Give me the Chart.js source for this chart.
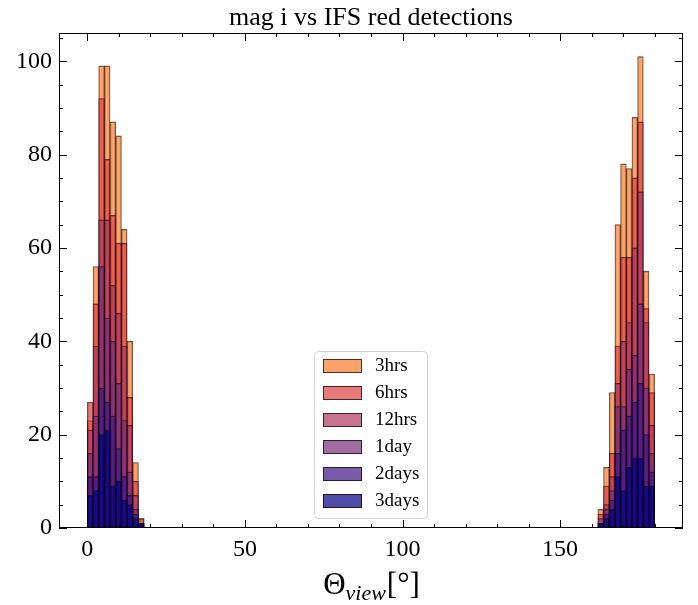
<!DOCTYPE html>
<html>
<head>
<meta charset="utf-8">
<script src="https://cdn.jsdelivr.net/npm/chart.js@4.4.1/dist/chart.umd.min.js"></script>
<style>
  html, body { margin: 0; padding: 0; background: #fff; }
  #wrap { width: 698px; height: 605px; position: relative; }
</style>
</head>
<body>
<div id="wrap"><canvas id="histChart" width="698" height="605"></canvas></div>
<script>
// bin centres (deg), bins of width 1.8 from 0 to 180, only non-empty bins kept
const binCenters = [0.9, 2.7, 4.5, 6.3, 8.1, 9.9, 11.7, 13.5, 15.3, 17.1,
                    162.9, 164.7, 166.5, 168.3, 170.1, 171.9, 173.7, 175.5, 177.3, 179.1];

const labels = ['3hrs', '6hrs', '12hrs', '1day', '2days', '3days'];
const hrs3  = [23, 56, 99, 99, 87, 84, 64, 40, 14, 2,   4, 13, 29, 65, 78, 77, 88, 101, 55, 33];
const hrs6  = [27, 48, 92, 79, 67, 61, 61, 28, 10, 2,   3,  9, 16, 39, 58, 58, 75,  87, 47, 29];
const hrs12 = [21, 39, 66, 66, 52, 46, 39, 22,  7, 1,   2,  5, 11, 31, 40, 44, 60,  72, 44, 22];
const day1  = [16, 24, 56, 45, 40, 31, 23, 12,  4, 1,   1,  4,  8, 26, 26, 34, 37,  48, 30, 16];
const days2 = [11, 11, 30, 27, 24, 17, 11,  7,  3, 1,   1,  3,  6, 16, 21, 24, 27,  31, 20, 12];
const days3 = [ 7,  8, 20, 21,  9, 10,  6,  5,  2, 1,   1,  2,  4, 11,  8, 13, 15,  15,  9,  9];
const series = [hrs3, hrs6, hrs12, day1, days2, days3];
const colors = ['rgba(249,124,44,0.7)', 'rgba(224,66,65,0.7)', 'rgba(175,54,95,0.7)',
                'rgba(122,44,121,0.7)', 'rgba(66,22,132,0.7)', 'rgba(4,0,134,0.7)'];
const edge = 'rgba(0,0,0,0.7)';

const xMajor = [0, 50, 100, 150];
const yMajor = [0, 20, 40, 60, 80, 100];

const serif = '"Liberation Serif", "DejaVu Serif", serif';

const datasets = series.map((vals, i) => ({
    label: labels[i],
    data: vals.map((v, j) => ({x: binCenters[j], y: v})),
    backgroundColor: colors[i],
    borderColor: edge,
    borderWidth: 0.8,
    borderSkipped: false,
    grouped: false,
    barPercentage: 1,
    categoryPercentage: 1,
    order: series.length - i
}));

// frame, inward ticks, labels, title and legend drawn on the canvas
const decor = {
    id: 'decor',
    afterDraw(chart) {
        const ctx = chart.ctx;
        const a = chart.chartArea;
        const xs = chart.scales.x, ys = chart.scales.y;
        ctx.save();
        ctx.strokeStyle = '#000';
        ctx.lineWidth = 1;
        ctx.strokeRect(a.left + 0.5, a.top + 0.5, a.right - a.left - 1, a.bottom - a.top - 1);

        ctx.beginPath();
        for (let v = 0; v <= 180; v += 10) {
            const p = Math.round(xs.getPixelForValue(v)) + 0.5;
            const len = xMajor.includes(v) ? 8 : 4;
            ctx.moveTo(p, a.bottom); ctx.lineTo(p, a.bottom - len);
            ctx.moveTo(p, a.top); ctx.lineTo(p, a.top + len);
        }
        for (let v = 0; v <= 105; v += 5) {
            const p = Math.round(ys.getPixelForValue(v)) + 0.5;
            const len = yMajor.includes(v) ? 8 : 4;
            ctx.moveTo(a.left, p); ctx.lineTo(a.left + len, p);
            ctx.moveTo(a.right, p); ctx.lineTo(a.right - len, p);
        }
        ctx.stroke();

        ctx.fillStyle = '#000';
        ctx.font = '24px ' + serif;
        ctx.textAlign = 'center';
        ctx.textBaseline = 'top';
        xMajor.forEach(v => ctx.fillText(String(v), xs.getPixelForValue(v), a.bottom + 10));
        ctx.textAlign = 'right';
        ctx.textBaseline = 'middle';
        yMajor.forEach(v => ctx.fillText(String(v), a.left - 7, ys.getPixelForValue(v)));

        // title
        ctx.textAlign = 'center';
        ctx.textBaseline = 'alphabetic';
        ctx.font = '26px ' + serif;
        ctx.fillText('mag i vs IFS red detections', (a.left + a.right) / 2, 25);

        // x label: Theta_view [deg]
        const big = '31px ' + serif, sub = 'italic 22px ' + serif;
        ctx.font = big; const w1 = ctx.measureText('\u0398').width;
        ctx.font = sub; const w2 = ctx.measureText('view').width;
        ctx.font = big; const w3 = ctx.measureText('[\u00b0]').width;
        let x0 = (a.left + a.right) / 2 - (w1 + w2 + w3) / 2;
        const base = 594;
        ctx.textAlign = 'left';
        ctx.font = big; ctx.fillText('\u0398', x0, base);
        ctx.font = sub; ctx.fillText('view', x0 + w1, base + 6);
        ctx.font = big; ctx.fillText('[\u00b0]', x0 + w1 + w2 + 1, base);

        // legend
        const lx = 314, ly = 351, lw = 113, lh = 167;
        ctx.beginPath();
        ctx.roundRect(lx + 0.5, ly + 0.5, lw, lh, 4);
        ctx.fillStyle = 'rgba(255,255,255,0.8)';
        ctx.fill();
        ctx.strokeStyle = '#d0d0d0';
        ctx.stroke();
        ctx.font = '19px ' + serif;
        ctx.textBaseline = 'middle';
        labels.forEach((lab, i) => {
            const y = 359 + i * 27;
            ctx.fillStyle = colors[i];
            ctx.fillRect(323, y, 39, 14);
            ctx.strokeStyle = edge;
            ctx.strokeRect(323.5, y + 0.5, 38, 13);
            ctx.fillStyle = '#000';
            ctx.fillText(lab, 375, y + 7);
        });
        ctx.restore();
    }
};

new Chart(document.getElementById('histChart'), {
    type: 'bar',
    data: {datasets: datasets},
    options: {
        responsive: false,
        animation: false,
        layout: {padding: {left: 59, right: 15, top: 33, bottom: 77}},
        plugins: {legend: {display: false}, tooltip: {enabled: false}},
        scales: {
            x: {type: 'linear', min: -9, max: 189, offset: false, display: false},
            y: {min: 0, max: 106.05, display: false}
        }
    },
    plugins: [decor]
});
</script>
</body>
</html>
